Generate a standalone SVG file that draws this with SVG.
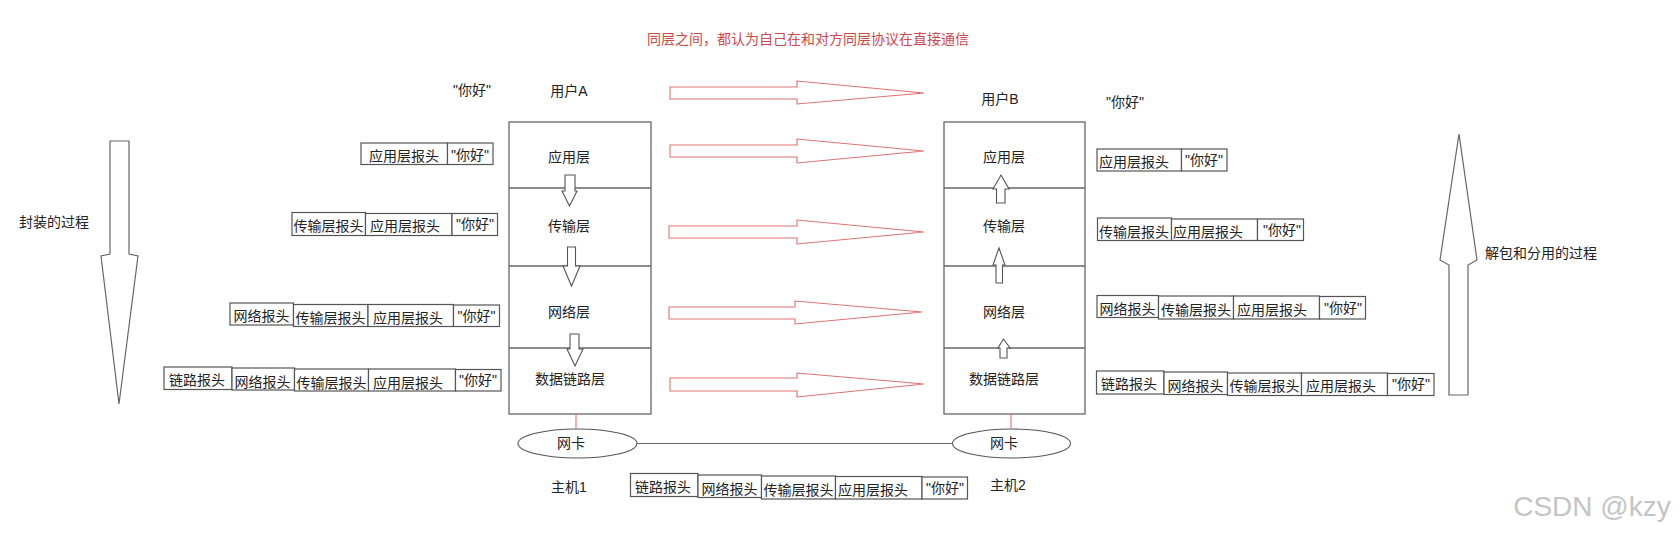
<svg xmlns="http://www.w3.org/2000/svg" width="1680" height="536" viewBox="0 0 1680 536">
<style>
text{font-family:"Liberation Sans","Noto Sans CJK SC",sans-serif;font-size:14px;fill:#222;}
.c{text-anchor:middle;dominant-baseline:central;}
.box{fill:#fff;stroke:#555;stroke-width:1.2;}
.host{fill:#fff;stroke:#666;stroke-width:1.3;}
.red{fill:#fff;stroke:#e07070;stroke-width:1.1;}
.small{fill:#fff;stroke:#555;stroke-width:1.1;}
.big{fill:#fff;stroke:#666;stroke-width:1.2;}
.pk text{font-size:14px;}
</style>
<rect width="1680" height="536" fill="#fff"/>
<text x="808" y="39" class="c" style="fill:#d04848">同层之间，都认为自己在和对方同层协议在直接通信</text>

<g id="encap">
<polygon class="big" points="110,141 129,141 129,254 138,256 119,404 101,256 110,254"/>
<text x="54" y="222" class="c">封装的过程</text>
</g>
<g id="decap">
<polygon class="big" points="1459,134 1477,260 1468,265 1468,395 1449,395 1449,265 1440,260"/>
<text x="1541" y="253" class="c">解包和分用的过程</text>
</g>

<g id="hostA">
<rect class="host" x="509" y="122" width="142" height="292"/>
<line x1="509" y1="188" x2="651" y2="188" stroke="#666" stroke-width="1.3"/>
<line x1="509" y1="266" x2="651" y2="266" stroke="#666" stroke-width="1.3"/>
<line x1="509" y1="348" x2="651" y2="348" stroke="#666" stroke-width="1.3"/>
<text x="569" y="91" class="c">用户A</text>
<text x="569" y="157" class="c">应用层</text>
<text x="569" y="226" class="c">传输层</text>
<text x="569" y="312" class="c">网络层</text>
<text x="570" y="379" class="c">数据链路层</text>
<text x="472" y="90" class="c">"你好"</text>
<text x="569" y="487" class="c">主机1</text>
</g>
<g id="hostB">
<rect class="host" x="944" y="122" width="141" height="292"/>
<line x1="944" y1="188" x2="1085" y2="188" stroke="#666" stroke-width="1.3"/>
<line x1="944" y1="266" x2="1085" y2="266" stroke="#666" stroke-width="1.3"/>
<line x1="944" y1="348" x2="1085" y2="348" stroke="#666" stroke-width="1.3"/>
<text x="1000" y="99" class="c">用户B</text>
<text x="1004" y="157" class="c">应用层</text>
<text x="1004" y="226" class="c">传输层</text>
<text x="1004" y="312" class="c">网络层</text>
<text x="1004" y="379" class="c">数据链路层</text>
<text x="1125" y="102" class="c">"你好"</text>
<text x="1008" y="485" class="c">主机2</text>
</g>

<g id="nicA">
<ellipse cx="577.5" cy="443.5" rx="59.5" ry="14.5" fill="#fff" stroke="#555" stroke-width="1.1"/>
<text x="571" y="443" class="c">网卡</text>
</g>
<g id="nicB">
<ellipse cx="1011.5" cy="443.5" rx="59" ry="14.5" fill="#fff" stroke="#555" stroke-width="1.1"/>
<text x="1004" y="443" class="c">网卡</text>
</g>

<g id="connectors">
<line x1="576" y1="414" x2="576" y2="429" stroke="#e07070" stroke-width="1.1"/>
<line x1="1011" y1="414" x2="1011" y2="429" stroke="#e07070" stroke-width="1.1"/>
<line x1="637" y1="443.5" x2="952.5" y2="443.5" stroke="#666" stroke-width="1.1"/>
<polygon class="red" points="670,87 797,87 797,81 924,93 797,104 797,99 670,99"/>
<polygon class="red" points="670,145 797,145 797,139 924,151 797,163 797,157 670,157"/>
<polygon class="red" points="669,226 797,226 797,220 924,232 797,244 797,238 669,238"/>
<polygon class="red" points="669,307 795,307 795,301 922,312 795,324 795,319 669,319"/>
<polygon class="red" points="670,378 797,378 797,373 924,384 797,397 797,391 670,391"/>
<polygon class="small" points="565,175 575,175 575,191 577,191 569.5,206 562,191 565,191"/>
<polygon class="small" points="567.5,247 575.5,247 575.5,266 580,266 571.5,286 563,266 567.5,266"/>
<polygon class="small" points="570,334 579,334 579,349 583,349 575,366 567,349 570,349"/>
<polygon class="small" points="1001,175 1009,189 1005,189 1005,203 996.5,203 996.5,189 993,189"/>
<polygon class="small" points="999,248 1005,265 1002.5,265 1002.5,283 996,283 996,265 993,265"/>
<polygon class="small" points="1003.5,339 1010,348 1007,348 1007,358 1000,358 1000,348 998,348"/>
</g>

<g id="packetsLeft" class="pk">
<rect class="box" x="361" y="143" width="86.5" height="21.5"/><text x="404" y="156" class="c">应用层报头</text>
<rect class="box" x="447.5" y="143" width="45.5" height="21.5"/><text x="470" y="155" class="c">"你好"</text>

<rect class="box" x="292" y="212.5" width="73.5" height="23"/><text x="328.5" y="226" class="c">传输层报头</text>
<rect class="box" x="365.5" y="213.5" width="86.5" height="22"/><text x="405" y="226" class="c">应用层报头</text>
<rect class="box" x="452" y="213.5" width="45.5" height="22"/><text x="475" y="224" class="c">"你好"</text>

<rect class="box" x="230" y="303" width="63.5" height="22"/><text x="261.5" y="316" class="c">网络报头</text>
<rect class="box" x="293.5" y="304.5" width="74.5" height="22"/><text x="330.5" y="318" class="c">传输层报头</text>
<rect class="box" x="368" y="304.5" width="85.5" height="22"/><text x="408" y="318" class="c">应用层报头</text>
<rect class="box" x="453.5" y="305" width="46" height="21.5"/><text x="476.5" y="316" class="c">"你好"</text>

<rect class="box" x="164" y="367" width="68" height="22.5"/><text x="197" y="380" class="c">链路报头</text>
<rect class="box" x="232" y="368" width="62.5" height="22"/><text x="262.5" y="382" class="c">网络报头</text>
<rect class="box" x="294.5" y="369" width="74" height="22"/><text x="331.5" y="383" class="c">传输层报头</text>
<rect class="box" x="368.5" y="369" width="87" height="22"/><text x="408" y="383" class="c">应用层报头</text>
<rect class="box" x="455.5" y="369.5" width="45.5" height="21.5"/><text x="478" y="380" class="c">"你好"</text>
</g>

<g id="packetsRight" class="pk">
<rect class="box" x="1097" y="149" width="84.5" height="22"/><text x="1134" y="162" class="c">应用层报头</text>
<rect class="box" x="1181.5" y="149" width="45.5" height="22"/><text x="1204" y="160" class="c">"你好"</text>

<rect class="box" x="1097.5" y="218" width="74" height="22.5"/><text x="1134" y="232" class="c">传输层报头</text>
<rect class="box" x="1171.5" y="219" width="86" height="21.5"/><text x="1208" y="232" class="c">应用层报头</text>
<rect class="box" x="1257.5" y="219" width="46" height="21.5"/><text x="1282" y="230" class="c">"你好"</text>

<rect class="box" x="1097" y="295.5" width="61.5" height="22"/><text x="1127.5" y="309" class="c">网络报头</text>
<rect class="box" x="1158.5" y="296" width="75" height="23"/><text x="1196" y="310" class="c">传输层报头</text>
<rect class="box" x="1233.5" y="296" width="86" height="23"/><text x="1272" y="310" class="c">应用层报头</text>
<rect class="box" x="1319.5" y="296.5" width="46" height="22.5"/><text x="1343" y="308" class="c">"你好"</text>

<rect class="box" x="1096.5" y="371" width="67.5" height="23"/><text x="1129" y="384" class="c">链路报头</text>
<rect class="box" x="1164" y="372" width="63.5" height="22.5"/><text x="1195.5" y="386" class="c">网络报头</text>
<rect class="box" x="1227.5" y="373" width="74" height="22.5"/><text x="1264.5" y="386" class="c">传输层报头</text>
<rect class="box" x="1301.5" y="373" width="86" height="22.5"/><text x="1341" y="386" class="c">应用层报头</text>
<rect class="box" x="1387.5" y="373.5" width="46.5" height="22"/><text x="1411" y="384" class="c">"你好"</text>
</g>

<g id="packetBottom" class="pk">
<rect class="box" x="630.5" y="473.5" width="67.5" height="23"/><text x="663" y="487" class="c">链路报头</text>
<rect class="box" x="698" y="475" width="63.5" height="22.5"/><text x="729.5" y="489" class="c">网络报头</text>
<rect class="box" x="761.5" y="476" width="74" height="23"/><text x="798.5" y="490" class="c">传输层报头</text>
<rect class="box" x="835.5" y="476.5" width="86.5" height="22.5"/><text x="873" y="490" class="c">应用层报头</text>
<rect class="box" x="922" y="477" width="45.5" height="22"/><text x="945" y="488" class="c">"你好"</text>
</g>

<text x="1592" y="506" class="c" style="font-size:28px;fill:#c4c4c4">CSDN @kzy</text>
</svg>
